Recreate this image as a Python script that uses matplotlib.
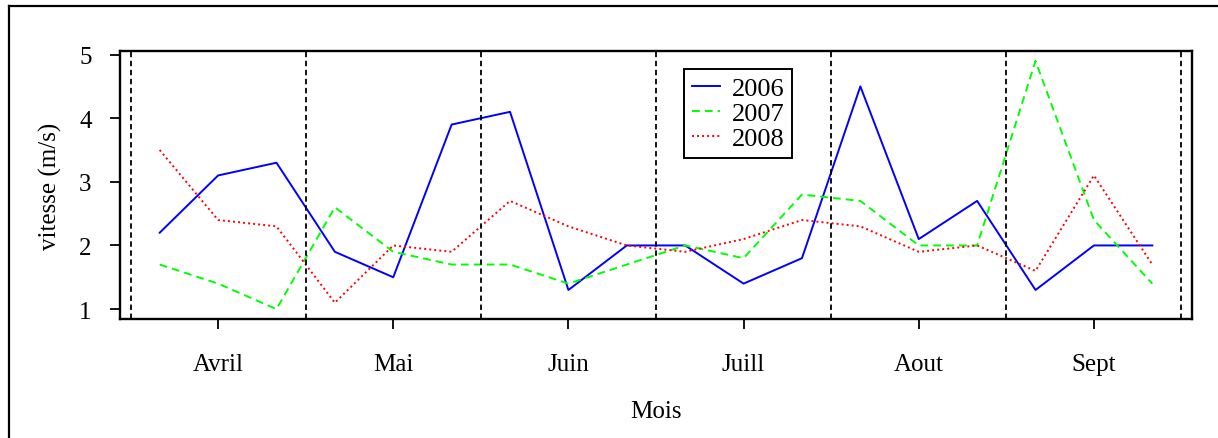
import matplotlib
matplotlib.use("Agg")
import matplotlib.pyplot as plt
from matplotlib.lines import Line2D

months = ["Avril", "Mai", "Juin", "Juill", "Aout", "Sept"]
years = ["2006", "2007", "2008"]
v2006 = [2.2, 3.1, 3.3, 1.9, 1.5, 3.9, 4.1, 1.3, 2.0, 2.0, 1.4, 1.8, 4.5, 2.1, 2.7, 1.3, 2.0, 2.0]
v2007 = [1.7, 1.4, 1.0, 2.6, 1.9, 1.7, 1.7, 1.4, 1.7, 2.0, 1.8, 2.8, 2.7, 2.0, 2.0, 4.9, 2.4, 1.4]
v2008 = [3.5, 2.4, 2.3, 1.1, 2.0, 1.9, 2.7, 2.3, 2.0, 1.9, 2.1, 2.4, 2.3, 1.9, 2.0, 1.6, 3.1, 1.7]
yticks = [1, 2, 3, 4, 5]

plt.rcParams['font.family'] = ['Liberation Serif', 'DejaVu Serif']
FS = 18

W, H = 1218, 439
fig = plt.figure(figsize=(W / 100, H / 100), dpi=100)
ax = fig.add_axes([120 / W, 1 - 320 / H, (1192 - 120) / W, (320 - 52) / H])

x = list(range(1, len(v2006) + 1))
n = len(x)
ax.plot(x, v2006, color='#0000ff', lw=1.4, ls='-', label=years[0])
ax.plot(x, v2007, color='#00ff00', lw=1.4, ls=(0, (4, 2.6)), label=years[1])
ax.plot(x, v2008, color='#ff0000', lw=1.4, ls=(0, (1, 1.6)), label=years[2])

for i in range(len(months) + 1):
    ax.axvline(0.5 + 3 * i, color='black', lw=1.3, ls=(0, (3, 2)))

allv = v2006 + v2007 + v2008
lo, hi = min(allv), max(allv)
ax.set_xlim(1 - 0.04 * (n - 1), n + 0.04 * (n - 1))
ax.set_ylim(lo - 0.04 * (hi - lo), hi + 0.04 * (hi - lo))

ax.set_xticks([2 + 3 * i for i in range(len(months))])
ax.set_xticklabels(months)
ax.set_yticks(yticks)
ax.set_yticklabels([str(t) for t in yticks])
ax.tick_params(axis='both', direction='out', length=7.5, width=1.3, labelsize=FS, colors='black')
ax.tick_params(axis='x', pad=17)
ax.tick_params(axis='y', pad=13)
for s in ax.spines.values():
    s.set_linewidth(1.7)
    s.set_color('black')

ax.set_xlabel("Mois", fontsize=FS, labelpad=18)
ax.set_ylabel("vitesse (m/s)", fontsize=FS, labelpad=12)

leg = ax.legend(loc='upper left', bbox_to_anchor=((684 - 120) / 1072, (320 - 70) / 268),
                borderaxespad=0, fontsize=19, frameon=True, fancybox=False,
                handlelength=1.05, handletextpad=0.45, labelspacing=0.05,
                borderpad=0.3)
leg.get_frame().set_edgecolor('black')
leg.get_frame().set_linewidth(1.4)
leg.get_frame().set_alpha(1)

# outer device frame (partially cut off)
fig.add_artist(Line2D([8.5 / W, 1.01], [1 - 6.5 / H, 1 - 6.5 / H], transform=fig.transFigure, color='black', lw=1.6))
fig.add_artist(Line2D([8.5 / W, 8.5 / W], [1 - 6.5 / H, -0.01], transform=fig.transFigure, color='black', lw=1.6))

fig.savefig("out.png", dpi=100)
